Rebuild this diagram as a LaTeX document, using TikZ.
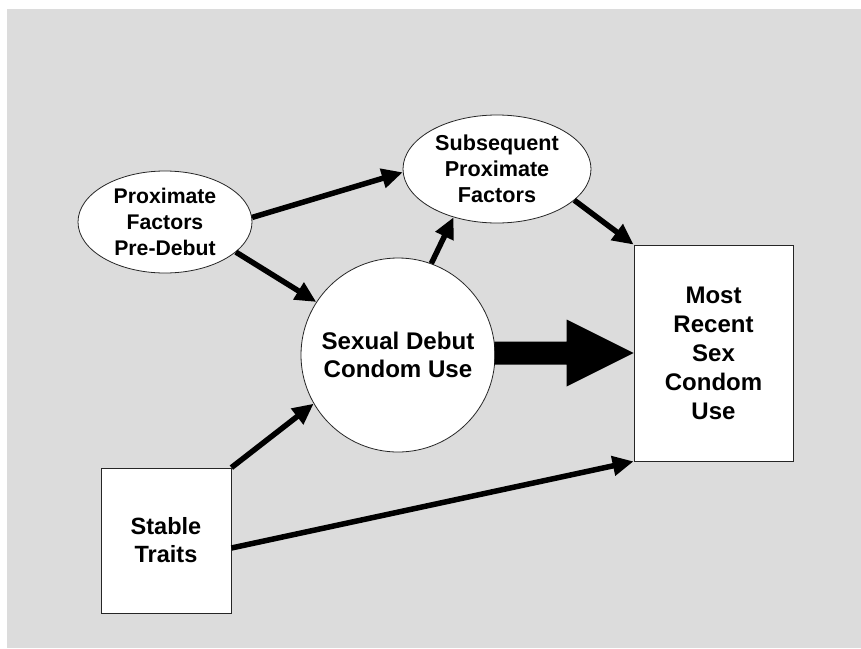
\documentclass[tikz,border=0pt]{standalone}
\usepackage{fontspec}
\setmainfont{Liberation Sans}
\usetikzlibrary{arrows.meta,shapes.geometric,calc}
\definecolor{bggray}{RGB}{220,220,220}
\begin{document}
\begin{tikzpicture}[x=1pt,y=-1pt,
  box/.style={draw=black!85, line width=0.8pt, fill=white, align=center, inner sep=0pt},
  oval/.style={ellipse, box},
  link/.style={line width=5.5pt, -{Triangle[length=21pt,width=19pt]}},
]
\fill[white] (0,0) rectangle (861,648);
\fill[bggray] (7,9) rectangle (861,648);
\useasboundingbox (0,0) rectangle (861,648);

\node[oval, minimum width=174pt, minimum height=102pt, font=\bfseries\fontsize{21.2}{26}\selectfont] (prox) at (165,222) {Proximate\\Factors\\Pre-Debut};
\node[oval, minimum width=188pt, minimum height=108pt, font=\bfseries\fontsize{21.6}{26}\selectfont] (subs) at (497,169) {Subsequent\\Proximate\\Factors};
\node[circle, box, minimum size=194pt, font=\bfseries\fontsize{24.1}{28}\selectfont] (deb) at (398,355) {Sexual Debut\\Condom Use};
\node[box, minimum width=159pt, minimum height=216pt, font=\bfseries\fontsize{24}{29}\selectfont] (mr) at (713.5,353) {Most\\Recent\\Sex\\Condom\\Use};
\node[box, minimum width=130pt, minimum height=145pt, font=\bfseries\fontsize{23.5}{28}\selectfont] (st) at (166,540.5) {Stable\\Traits};

\draw[link] (prox.3) -- (subs.182);
\draw[link] (prox.-23) -- (deb.147);
\draw[link] (deb.70) -- (subs.228);
\draw[link] (subs.-22) -- (mr.north west);
\draw[link] (st.north east) -- (deb.210);
\draw[link] ([yshift=-7.5pt]st.east) -- (mr.south west);

\coordinate (ba) at (deb.east |- mr.west);
\fill[black] ($(ba)+(-1,-11.5)$) -- ($(mr.west)+(-67,-11.5)$) -- ($(mr.west)+(-67,-33.5)$) -- (mr.west) -- ($(mr.west)+(-67,33.5)$) -- ($(mr.west)+(-67,11.5)$) -- ($(ba)+(-1,11.5)$) -- cycle;
\end{tikzpicture}
\end{document}
